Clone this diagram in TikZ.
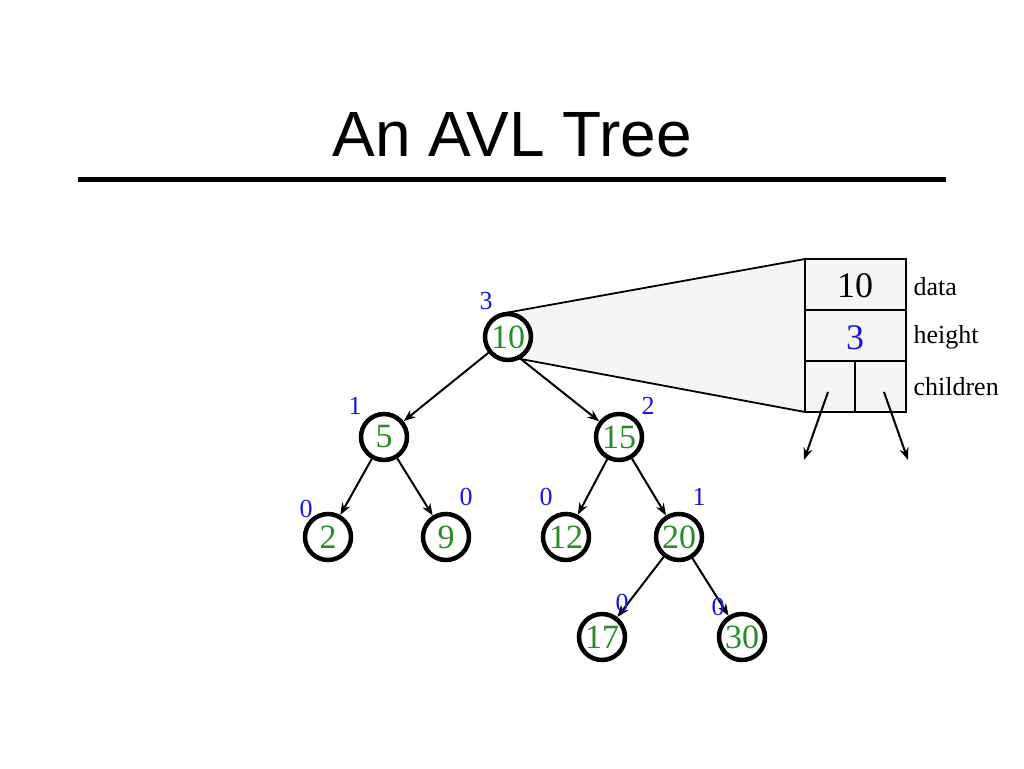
\documentclass[tikz,border=0pt]{standalone}
\usepackage{fontspec}
\setmainfont{Liberation Serif}
\newfontfamily\titlefont{Liberation Sans}
\definecolor{numgreen}{RGB}{40,140,40}
\definecolor{hblue}{RGB}{20,20,230}
\definecolor{pane}{RGB}{245,245,245}
\usetikzlibrary{arrows.meta}
\begin{document}
\begin{tikzpicture}[x=1pt,y=-1pt,
  tn/.style={circle,draw,line width=4.5pt,minimum size=46pt,inner sep=0pt,fill=white,text=numgreen,font=\fontsize{34}{34}\selectfont},
  hl/.style={text=hblue,font=\fontsize{26}{26}\selectfont},
  lab/.style={anchor=west,font=\fontsize{26}{26}\selectfont},
  ed/.style={-{Stealth[length=12pt,width=9pt]},line width=2pt,shorten >=0pt}]
\useasboundingbox (0,0) rectangle (1024,768);
\node[font=\titlefont\fontsize{64}{64}\selectfont] (title) at (512,135) {An AVL Tree};
\draw[line width=5pt] (78,179) -- (946,179);
% zoom pane
\fill[pane] (505,313) -- (805,259) -- (805,412) -- (510,357) -- cycle;
\draw[line width=1.8pt] (505,313) -- (805,259);
\draw[line width=1.8pt] (510,357) -- (805,412);
\draw[line width=1.8pt,fill=pane] (805,259) rectangle (906,412);
\draw[line width=1.8pt] (805,310) -- (906,310) (805,361) -- (906,361) (855,361) -- (855,412);
\node[font=\fontsize{36}{36}\selectfont] (d) at (855,286) {10};
\node[text=hblue,font=\fontsize{36}{36}\selectfont] (h) at (855,338) {3};
\coordinate (c1) at (828,392); \coordinate (c1e) at (804,460);
\coordinate (c2) at (884,392); \coordinate (c2e) at (908,460);
\draw[ed] (c1) -- (c1e);
\draw[ed] (c2) -- (c2e);
\node[lab] (l1) at (910,287) {data};
\node[lab] (l2) at (910,337) {height};
\node[lab] (l3) at (910,387) {children};
% tree
\node[tn] (n10) at (508,337) {10};
\node[tn] (n5) at (384,437) {5};
\node[tn] (n15) at (619,437) {15};
\node[tn] (n2) at (328,537) {2};
\node[tn] (n9) at (446,537) {9};
\node[tn] (n12) at (566,537) {12};
\node[tn] (n20) at (679,537) {20};
\node[tn] (n17) at (602,637) {17};
\node[tn] (n30) at (742,637) {30};
\draw[ed] (n10) -- (n5);
\draw[ed] (n10.-60) -- (n15);
\draw[ed] (n5) -- (n2);
\draw[ed] (n5) -- (n9);
\draw[ed] (n15) -- (n12);
\draw[ed] (n15) -- (n20);
\draw[ed] (n20) -- (n17);
\draw[ed] (n20) -- (n30);
\node[hl] at (486,301) {3};
\node[hl] at (355,406) {1};
\node[hl] at (648,406) {2};
\node[hl] at (306,509) {0};
\node[hl] at (466,497) {0};
\node[hl] at (546,497) {0};
\node[hl] at (699,497) {1};
\node[hl] at (622,603) {0};
\node[hl] at (718,607) {0};
\end{tikzpicture}
\end{document}
